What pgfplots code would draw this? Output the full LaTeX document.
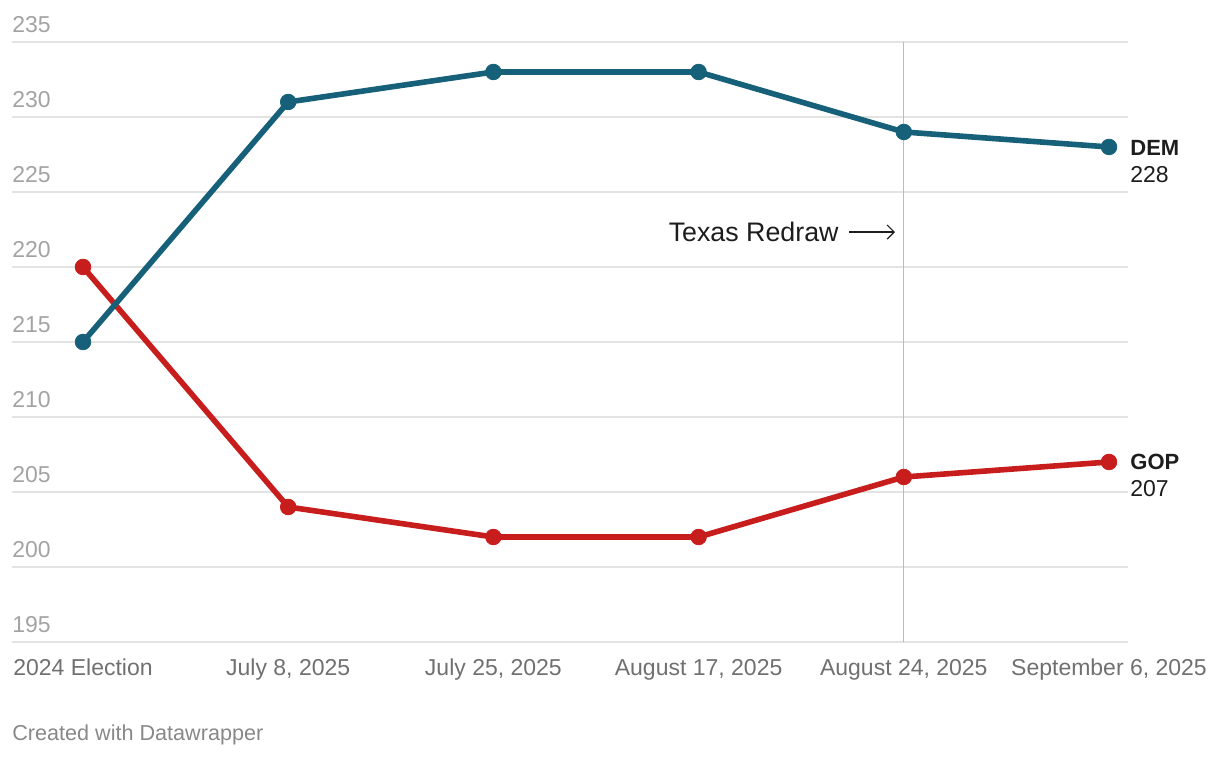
\documentclass[border=0pt]{standalone}
\usepackage{pgfplots}
\pgfplotsset{compat=1.18}
\usepackage{fontspec}
\setmainfont{Liberation Sans}
\usetikzlibrary{arrows.meta}
\definecolor{dem}{HTML}{17607A}
\definecolor{gop}{HTML}{C71E1D}
\definecolor{gridc}{HTML}{E3E3E3}
\definecolor{vlc}{HTML}{BBBBBB}
\definecolor{ytc}{HTML}{A3A3A3}
\definecolor{xtc}{HTML}{707070}
\definecolor{footc}{HTML}{888888}
\definecolor{txt}{HTML}{1D1D1D}
\begin{document}
\begin{tikzpicture}
\path[use as bounding box] (0,0) rectangle (610pt,379pt);
\begin{axis}[
  at={(6pt,58pt)}, anchor=south west,
  scale only axis, width=558pt, height=300pt,
  xmin=-0.346, xmax=5.0926, ymin=195, ymax=235,
  axis line style={draw=none},
  major tick length=0pt,
  xtick={0,1,2,3,4,5},
  xticklabels={2024 Election,{July 8, 2025},{July 25, 2025},{August 17, 2025},{August 24, 2025},{September 6, 2025}},
  ytick={195,200,205,210,215,220,225,230,235},
  ymajorgrids,
  grid style={color=gridc, line width=0.8pt},
  yticklabel style={anchor=base west, inner sep=0pt, yshift=4.5pt, font=\fontsize{11.5}{13}\selectfont, text=ytc},
  xticklabel style={anchor=base, inner sep=0pt, yshift=-17pt, font=\fontsize{11.5}{13}\selectfont, text=xtc},
  /pgf/number format/assume math mode=true,
  clip=false,
]
\draw[color=vlc, line width=0.6pt] (axis cs:4,195) -- (axis cs:4,235);
\addplot[color=gop, line width=2.8pt, line join=round, mark=*, mark size=3.9pt, mark options={solid, line width=0.4pt}]
  coordinates {(0,220) (1,204) (2,202) (3,202) (4,206) (5,207)};
\addplot[color=dem, line width=2.8pt, line join=round, mark=*, mark size=3.9pt, mark options={solid, line width=0.4pt}]
  coordinates {(0,215) (1,231) (2,233) (3,233) (4,229) (5,228)};
\node[anchor=base west, inner sep=0pt, xshift=10.5pt, yshift=-4.5pt, text=txt, font=\fontsize{11}{13}\selectfont\bfseries] at (axis cs:5,228) {DEM};
\node[anchor=base west, inner sep=0pt, xshift=10.5pt, yshift=-18pt, text=txt, font=\fontsize{11.5}{13}\selectfont] at (axis cs:5,228) {228};
\node[anchor=base west, inner sep=0pt, xshift=10.5pt, yshift=-4pt, text=txt, font=\fontsize{11}{13}\selectfont\bfseries] at (axis cs:5,207) {GOP};
\node[anchor=base west, inner sep=0pt, xshift=10.5pt, yshift=-17.5pt, text=txt, font=\fontsize{11.5}{13}\selectfont] at (axis cs:5,207) {207};
\node[anchor=base east, inner sep=0pt, text=txt, font=\fontsize{13.4}{15}\selectfont] at (axis cs:3.684,221.67) {Texas Redraw};
\draw[color=txt, line width=0.6pt, -{Straight Barb[length=3.5pt,width=7pt]}] (axis cs:3.733,222.33) -- (axis cs:3.957,222.33);
\end{axis}
\node[anchor=base west, inner sep=0pt, text=footc, font=\fontsize{10.8}{13}\selectfont] at (6pt,8.5pt) {Created with Datawrapper};
\end{tikzpicture}
\end{document}
